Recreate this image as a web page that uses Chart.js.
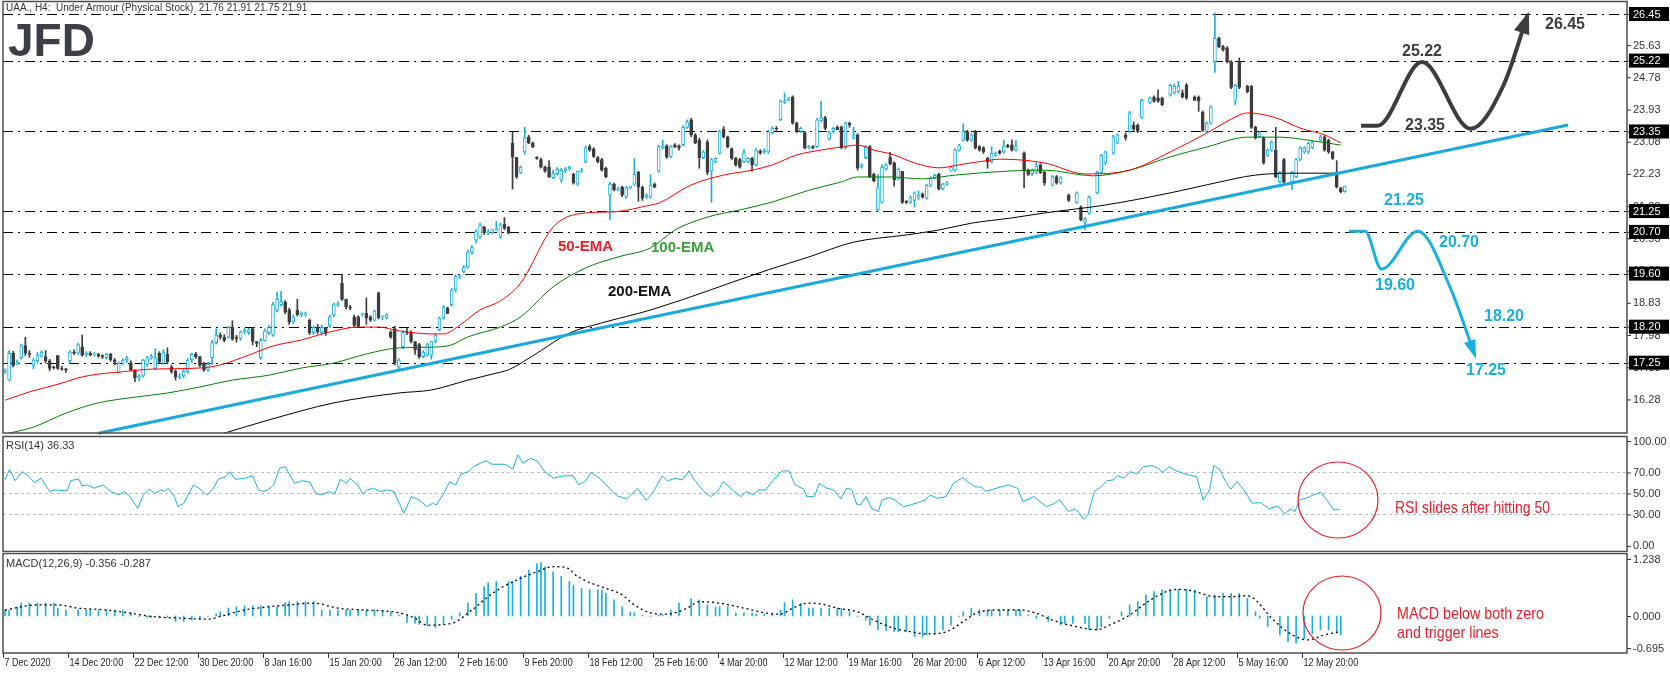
<!DOCTYPE html>
<html><head><meta charset="utf-8">
<script src="https://cdn.jsdelivr.net/npm/chart.js@4.4.1/dist/chart.umd.min.js"></script>
<style>
html,body{margin:0;padding:0;background:#fff;width:1670px;height:674px;overflow:hidden}
canvas{position:absolute;left:0}
</style></head><body>
<canvas id="cMain" width="1670" height="435" style="top:0"></canvas>
<canvas id="cRsi" width="1670" height="118" style="top:435px"></canvas>
<canvas id="cMacd" width="1670" height="121" style="top:553px"></canvas>
<script>
// ---------- DATA ----------
const xLabels=['7 Dec 2020','14 Dec 20:00','22 Dec 12:00','30 Dec 20:00','8 Jan 16:00','15 Jan 20:00','26 Jan 12:00','2 Feb 16:00','9 Feb 20:00','18 Feb 12:00','25 Feb 16:00','4 Mar 20:00','12 Mar 12:00','19 Mar 16:00','26 Mar 20:00','6 Apr 12:00','13 Apr 16:00','20 Apr 20:00','28 Apr 12:00','5 May 16:00','12 May 20:00'];
const open=[17.02,16.79,17.50,17.22,17.38,17.70,17.50,17.18,17.30,17.42,
17.41,17.30,17.13,17.44,17.09,17.07,17.30,17.53,17.50,17.67,
17.47,17.50,17.45,17.47,17.42,17.38,17.47,17.32,16.99,17.24,
17.32,17.24,17.06,16.85,16.90,17.21,17.38,17.10,17.50,17.24,
17.47,17.13,17.02,16.87,16.90,17.02,17.32,17.47,17.41,17.24,
17.06,17.38,17.78,17.98,17.92,17.92,18.18,17.92,17.89,18.06,
18.04,18.15,17.81,17.38,17.84,18.04,17.98,18.64,18.78,18.84,
18.64,18.32,18.64,18.51,18.51,18.37,18.04,18.18,18.04,18.18,
18.23,18.51,18.78,19.35,18.92,18.72,18.46,18.46,18.51,18.55,
18.46,18.37,19.09,18.43,18.43,18.06,18.15,17.13,17.67,18.06,
18.04,17.81,17.73,17.41,17.45,17.45,17.81,18.12,18.43,18.69,
18.78,19.17,19.52,19.66,19.77,20.15,20.48,20.57,20.82,20.68,
20.68,20.76,20.57,20.90,20.82,23.04,22.67,22.27,22.81,23.21,
23.04,22.66,22.61,22.41,22.41,22.13,22.24,22.07,22.30,22.36,
22.22,21.96,22.30,22.55,22.95,22.89,22.66,22.61,22.38,21.67,
21.96,21.81,21.88,21.62,21.87,21.96,22.27,21.88,21.62,21.62,
21.96,22.30,22.92,22.97,22.69,23.00,22.97,23.00,23.46,23.66,
23.26,23.12,22.66,23.07,22.30,22.55,22.78,23.41,23.21,22.89,
22.64,22.61,22.55,22.55,22.64,22.47,22.83,22.81,22.81,23.32,
23.43,23.66,24.12,24.17,24.26,23.57,23.35,23.32,22.92,22.95,
22.95,23.63,23.72,23.15,23.35,23.46,23.46,22.92,23.57,23.18,
23.26,22.41,22.66,22.95,22.22,21.28,21.48,22.36,22.66,22.52,
22.10,22.30,21.51,21.48,21.53,21.59,21.70,21.59,21.93,22.13,
22.22,21.84,21.96,22.30,22.33,22.86,23.12,23.35,23.12,23.35,
22.95,22.92,22.64,22.55,22.72,22.83,22.81,22.97,23.00,22.86,
22.78,22.33,22.24,22.27,22.47,22.27,21.93,22.16,21.99,21.67,
21.48,21.36,20.96,21.19,21.73,22.27,22.52,22.78,23.04,23.26,
23.35,23.52,23.52,23.72,24.12,24.26,24.23,24.23,24.31,24.37,
24.40,24.37,24.57,24.26,24.26,23.86,23.35,23.57,25.19,25.81,
25.59,25.56,25.19,24.15,25.19,24.54,24.54,23.46,23.21,23.18,
22.72,22.86,22.86,22.02,22.61,22.02,22.16,22.61,22.81,22.81,
22.92,23.12,23.21,23.12,22.81,22.27,21.86,21.76];
const high=[17.09,17.57,17.55,17.32,17.74,17.92,17.57,17.36,17.52,17.57,
17.57,17.34,17.16,17.44,17.16,17.10,17.57,17.59,17.76,17.98,
17.54,17.54,17.52,17.50,17.46,17.50,17.50,17.36,17.27,17.36,
17.42,17.30,17.06,16.95,17.34,17.42,17.47,17.62,17.54,17.59,
17.64,17.19,17.06,16.97,17.06,17.36,17.50,17.52,17.42,17.26,
17.26,17.84,18.14,18.04,17.99,18.21,18.36,17.97,18.09,18.16,
18.16,18.18,17.81,17.89,18.14,18.24,18.84,19.11,19.13,18.89,
18.69,18.51,18.92,18.59,18.59,18.40,18.22,18.26,18.24,18.18,
18.51,18.82,18.86,19.59,18.93,18.76,18.51,18.49,18.56,18.96,
18.49,18.64,19.11,18.49,18.54,18.09,18.21,17.36,18.09,18.16,
18.09,17.81,17.76,17.57,17.76,17.81,18.01,18.46,18.76,18.72,
19.21,19.57,19.57,19.81,20.22,20.34,20.76,20.93,20.85,20.76,
20.76,20.98,20.93,21.08,20.85,23.33,22.67,22.44,23.46,23.25,
23.07,22.69,22.65,22.44,22.58,22.33,22.40,22.38,22.40,22.44,
22.25,22.30,22.38,22.97,23.00,22.92,22.69,22.64,22.41,22.01,
21.99,21.88,21.91,21.90,21.91,22.64,22.30,21.91,21.71,22.21,
21.99,22.99,23.12,23.00,22.98,23.03,23.00,23.50,23.66,23.70,
23.29,23.18,22.85,23.13,22.64,22.65,23.38,23.48,23.23,22.92,
22.67,22.64,22.87,22.67,22.67,22.90,22.87,22.89,23.38,23.48,
23.48,24.18,24.37,24.25,24.29,23.60,23.46,23.35,22.98,22.98,
23.70,24.15,23.75,23.35,23.46,23.50,23.50,23.60,23.60,23.46,
23.29,22.50,22.98,22.98,22.25,22.21,22.47,22.50,22.80,22.55,
22.39,22.30,21.53,21.65,21.76,21.78,21.73,21.96,22.16,22.23,
22.25,21.99,22.03,22.44,22.90,23.01,23.55,23.38,23.29,23.38,
22.98,22.95,22.67,22.95,22.81,22.86,23.12,23.01,23.13,23.11,
22.81,22.36,22.36,22.53,22.50,22.30,22.19,22.19,22.16,21.70,
21.76,21.39,21.08,21.65,22.30,22.75,22.83,23.25,23.29,23.31,
23.88,23.60,23.55,24.20,24.26,24.29,24.45,24.26,24.60,24.60,
24.67,24.45,24.62,24.29,24.29,23.89,23.60,24.03,26.48,25.84,
25.62,25.59,25.22,24.60,25.29,24.57,24.57,23.49,23.35,23.21,
22.89,23.10,23.46,22.30,22.64,22.30,22.64,22.95,22.95,23.07,
23.10,23.25,23.24,23.15,22.83,22.58,21.88,21.91];
const low=[16.97,16.77,17.14,17.19,17.34,17.44,17.39,17.09,17.24,17.39,
17.24,17.04,17.08,17.07,17.05,16.99,17.24,17.46,17.47,17.42,
17.41,17.43,17.42,17.39,17.36,17.34,17.29,17.19,16.97,17.20,
17.26,17.04,16.75,16.77,16.87,17.16,17.34,17.06,17.22,17.21,
17.22,16.97,16.79,16.82,16.85,16.97,17.26,17.36,17.14,17.02,
17.02,17.19,17.74,17.87,17.80,17.89,17.84,17.79,17.84,18.01,
17.99,17.72,17.67,17.34,17.82,17.99,17.94,18.59,18.74,18.54,
18.26,18.28,18.48,18.46,18.48,17.99,17.99,18.01,17.99,17.97,
18.18,18.46,18.74,18.89,18.66,18.64,18.18,18.19,18.48,18.26,
18.34,18.34,18.40,18.38,18.40,17.89,17.19,17.09,17.62,17.99,
17.77,17.47,17.36,17.38,17.42,17.34,17.77,18.09,18.40,18.54,
18.74,19.13,19.47,19.61,19.74,20.12,20.41,20.53,20.63,20.63,
20.65,20.73,20.53,20.76,20.65,21.83,22.11,22.24,22.75,23.03,
22.92,22.61,22.38,22.27,22.13,22.10,22.21,22.01,22.27,22.33,
21.96,21.93,22.27,22.52,22.83,22.66,22.52,22.30,22.13,21.02,
21.78,21.78,21.63,21.59,21.83,21.93,21.51,21.53,21.57,21.59,
21.87,22.27,22.89,22.64,22.66,22.92,22.86,22.97,23.43,23.21,
23.03,22.38,22.63,22.21,21.48,22.52,22.75,23.18,22.92,22.61,
22.44,22.38,22.52,22.52,22.30,22.44,22.75,22.77,22.77,23.29,
23.38,23.63,24.08,24.16,23.54,23.32,23.32,22.89,22.89,22.89,
22.92,23.60,23.40,23.12,23.32,23.40,22.89,22.89,23.46,23.15,
22.33,22.38,22.63,22.13,22.02,21.26,21.46,22.33,22.47,21.91,
22.07,21.45,21.45,21.45,21.36,21.56,21.59,21.56,21.90,22.10,
21.81,21.81,21.93,22.30,22.30,22.83,23.09,23.09,23.09,22.89,
22.83,22.77,22.38,22.52,22.69,22.75,22.77,22.92,22.83,22.83,
21.86,22.19,22.19,22.24,22.24,21.93,21.91,21.96,21.96,21.50,
21.45,20.99,20.76,21.16,21.70,22.24,22.48,22.75,23.03,23.12,
23.32,23.38,23.32,23.69,24.08,24.12,24.12,24.03,24.28,24.34,
24.37,24.23,24.20,24.17,23.88,23.35,23.32,23.54,24.91,25.56,
25.47,25.16,24.48,24.06,24.48,24.37,23.43,23.15,23.18,22.49,
22.69,22.83,22.13,21.99,21.99,21.82,22.13,22.58,22.77,22.77,
22.89,23.09,22.83,22.77,22.61,21.86,21.73,21.75];
const close=[17.05,17.50,17.18,17.26,17.70,17.50,17.47,17.32,17.45,17.53,
17.30,17.10,17.11,17.10,17.07,17.06,17.53,17.50,17.73,17.45,
17.50,17.45,17.47,17.42,17.41,17.47,17.32,17.27,17.24,17.32,
17.38,17.06,16.85,16.89,17.32,17.38,17.41,17.38,17.27,17.53,
17.27,17.02,16.87,16.90,17.02,17.32,17.47,17.41,17.18,17.06,
17.21,17.78,17.98,17.92,17.84,18.18,17.87,17.89,18.06,18.12,
18.12,17.81,17.76,17.84,18.09,18.18,18.78,18.92,18.86,18.58,
18.32,18.46,18.51,18.55,18.54,18.04,18.18,18.06,18.18,18.04,
18.46,18.78,18.81,18.92,18.72,18.69,18.23,18.21,18.54,18.43,
18.37,18.61,18.43,18.46,18.51,17.92,17.24,17.32,18.04,18.04,
17.81,17.59,17.41,17.53,17.73,17.81,17.98,18.43,18.72,18.55,
19.17,19.52,19.54,19.77,20.17,20.29,20.71,20.88,20.68,20.71,
20.76,20.76,20.88,20.79,20.68,22.67,22.16,22.41,23.18,23.04,
22.95,22.64,22.41,22.30,22.16,22.24,22.36,22.33,22.36,22.41,
21.99,22.30,22.33,22.92,22.86,22.69,22.55,22.33,22.16,21.96,
21.81,21.84,21.67,21.87,21.88,22.22,21.88,21.59,21.67,21.93,
21.88,22.95,22.97,22.67,22.95,22.95,22.92,23.46,23.60,23.26,
23.04,22.66,22.81,22.27,22.61,22.64,23.35,23.21,22.95,22.64,
22.47,22.41,22.78,22.64,22.47,22.86,22.78,22.86,23.35,23.43,
23.41,24.15,24.15,24.20,23.57,23.35,23.43,22.92,22.95,22.92,
23.66,23.72,23.43,23.32,23.43,23.40,22.92,23.57,23.52,23.26,
22.38,22.47,22.95,22.16,22.05,21.87,22.41,22.47,22.50,22.07,
22.36,21.48,21.48,21.62,21.73,21.67,21.62,21.93,22.13,22.19,
21.84,21.96,21.99,22.41,22.86,22.98,23.35,23.12,23.26,22.92,
22.86,22.81,22.55,22.78,22.78,22.78,22.97,22.95,22.86,22.95,
22.33,22.22,22.33,22.44,22.27,21.99,22.16,21.99,22.13,21.53,
21.73,21.02,21.04,21.62,22.27,22.72,22.81,23.21,23.26,23.18,
23.84,23.41,23.35,24.17,24.23,24.15,24.15,24.06,24.57,24.54,
24.54,24.26,24.23,24.17,24.15,23.38,23.57,24.00,25.81,25.59,
25.50,25.19,24.51,24.57,24.51,24.40,23.46,23.18,23.32,22.52,
22.86,23.07,22.16,22.27,22.02,22.27,22.61,22.92,22.92,23.04,
23.07,23.21,22.86,22.81,22.64,21.88,21.76,21.91];
// bar numbers of the last candles (time index)
const tailBars=[246,247,248,249,251,252,253,254,255,256,258,259,260,262,264,265,266,267,269,270,271,273,274,276,277,278,279,280,282,283,284,285,287,288,289,290,291,293,294,295,296,297,298,299,300,301,302,303,304,306,307,308,309,310,311,312,313,314,315,317,318,319,320,321,322,324,325,326,327,328,329,330];
const ema50=[[0,16.26],[6,16.48],[14,16.71],[18,16.85],[23,16.95],[28,17.00],[36,17.08],[48,17.11],[53,17.19],[60,17.45],[66,17.69],[73,17.85],[80,18.06],[87,18.19],[92,18.19],[97,18.09],[105,18.01],[108,18.01],[112,18.24],[117,18.64],[122,18.88],[127,19.35],[135,20.83],[143,21.20],[150,21.23],[159,21.41],[161,21.46],[169,21.94],[177,22.20],[184,22.33],[189,22.47],[195,22.73],[201,22.86],[206,22.94],[210,22.99],[214,22.86],[219,22.73],[224,22.52],[230,22.39],[235,22.47],[243,22.60],[245,22.62],[256,22.52],[266,22.23],[277,22.33],[287,22.81],[296,23.31],[304,23.78],[306,23.84],[313,23.71],[319,23.44],[325,23.26],[329,23.05]];
const ema100=[[1,15.39],[7,15.55],[15,15.92],[23,16.19],[32,16.34],[40,16.45],[48,16.61],[56,16.79],[65,16.92],[73,17.11],[81,17.24],[89,17.48],[97,17.64],[105,17.66],[110,17.72],[114,17.93],[122,18.19],[127,18.46],[135,19.25],[143,19.75],[151,20.04],[159,20.28],[165,20.75],[173,21.09],[181,21.28],[189,21.49],[198,21.80],[206,22.02],[210,22.15],[218,22.15],[226,22.10],[234,22.20],[248,22.31],[256,22.33],[268,22.18],[277,22.33],[287,22.68],[296,22.94],[306,23.20],[314,23.20],[321,23.12],[329,22.99]];
const ema200=[[54,15.39],[65,15.74],[81,16.19],[97,16.45],[105,16.53],[114,16.79],[122,17.00],[124,17.06],[131,17.50],[139,18.03],[147,18.30],[159,18.64],[188,19.70],[198,20.04],[209,20.43],[222,20.62],[230,20.75],[238,20.93],[248,21.07],[256,21.20],[271,21.41],[287,21.73],[298,21.99],[308,22.20],[319,22.25],[328,22.25]];
const trendLine=[[23,15.39],[385,23.52]];
const levels=[26.45,25.22,23.35,21.25,20.70,19.60,18.20,17.25];
const priceTicks=[25.63,24.78,23.93,23.08,22.23,21.38,20.53,19.68,18.83,17.98,17.13,16.28];
const bullPath=[[334,23.50],[338,23.50],[349,25.18],[361,23.42],[369,24.55],[375,26.41]];
const bearPath=[[331,20.72],[335,20.72],[339,19.72],[348,20.72],[356,19.22],[362,17.45]];
const rsi=[[0,62.9],[1.1,73.0],[2.5,62.2],[4.2,70.8],[5.8,66.7],[7.2,60.3],[8.9,64.5],[11,51.8],[12,53.4],[15.3,52.4],[16.2,62.2],[18.1,63.8],[19,57.2],[20.4,58.1],[21.9,55.0],[24.2,58.1],[26.1,51.8],[28,48.6],[29.4,51.8],[30.8,47.0],[32.7,35.9],[34.1,48.6],[35.5,54.0],[37,50.2],[38.4,53.4],[39.3,51.8],[40.2,54.9],[41.7,47.0],[42.6,37.5],[44,40.7],[46.4,58.1],[47.8,54.9],[49.7,48.6],[51.1,53.4],[52.5,63.5],[54.4,66.1],[55.3,70.8],[56.7,63.5],[59.1,64.5],[61,67.0],[62.4,53.4],[63.8,51.8],[64.7,53.4],[66.2,58.1],[67.6,74.0],[69,75.6],[71.3,59.7],[73.2,62.2],[75.1,60.7],[76.5,50.2],[77.9,48.6],[79.8,51.8],[81.2,49.5],[82.6,63.5],[84.1,59.7],[85,64.5],[86.9,58.1],[88.1,49.5],[89.2,53.4],[90.7,55.0],[92.5,51.8],[94,53.4],[95.8,51.8],[97.3,39.1],[98.2,31.1],[100.1,47.0],[102,43.8],[103.9,37.5],[105.3,40.7],[106.2,39.1],[108.1,50.2],[109.5,61.3],[111,58.1],[112.3,68.6],[114.2,70.8],[115.6,76.2],[117.1,78.8],[118.5,81.0],[119.9,77.8],[123.2,77.8],[125.1,73.0],[126.3,86.7],[127.6,78.8],[129.4,83.5],[131.1,81.0],[132.9,70.8],[135.1,64.5],[137.3,66.7],[139.9,67.0],[141.3,58.1],[143,61.9],[144.3,69.9],[146.5,64.5],[149.2,53.4],[150.9,47.6],[153.1,44.8],[155.8,54.9],[158,43.2],[159.7,51.8],[161.9,66.7],[163.2,61.9],[165,64.5],[166.8,62.9],[168.5,71.5],[169.8,62.9],[172,52.4],[173.8,47.0],[175.5,51.8],[176.9,61.3],[179.1,53.4],[181.3,47.0],[182.6,51.8],[184.3,48.6],[185.7,53.4],[187.4,53.4],[189.2,62.9],[191.4,71.5],[193.1,71.5],[194.5,58.8],[196.7,54.0],[197.5,47.0],[199.3,47.0],[200.6,59.7],[202.4,55.0],[204.1,53.4],[205.9,44.8],[207.2,55.0],[208.5,54.0],[209.8,39.7],[210.7,39.1],[212.1,47.0],[213.4,35.9],[215.1,32.7],[216,43.8],[217.8,46.1],[219.1,43.8],[221.3,37.5],[223,39.1],[224.4,40.7],[226.6,43.8],[227.9,48.6],[229.6,45.4],[231.8,47.0],[233.6,59.7],[235.8,65.1],[237.1,61.3],[238.9,56.5],[240.6,55.9],[241.5,51.8],[243.3,54.0],[245.5,56.5],[247.2,58.1],[249.4,55.0],[250.7,42.2],[253.4,47.0],[256.5,37.5],[258.2,40.0],[259.8,43.8],[261.9,32.7],[263.5,35.3],[264.6,31.8],[265.6,25.4],[266.7,29.5],[268.3,51.8],[269.8,55.9],[271.4,62.2],[273,62.9],[274,67.0],[275.6,64.5],[277.2,70.8],[278.8,68.6],[280.4,75.6],[282.5,76.5],[284,74.0],[285.1,69.9],[286.7,75.6],[288.3,71.8],[291.4,67.6],[293.5,66.1],[295.1,43.8],[296.7,53.4],[297.7,76.5],[299.3,72.4],[300.4,62.9],[301.9,54.0],[303.5,61.3],[305.1,53.4],[307.2,40.7],[309.3,41.3],[311.4,35.3],[313.5,38.1],[315.1,30.5],[316.7,35.3],[317.7,32.7],[318.8,43.8],[320.4,45.4],[321.9,48.0],[324,51.1],[325.6,43.8],[327.2,34.3],[328.8,35.3]];
const macdHist=[[0,0.13],[1,0.13],[3,0.20],[4,0.28],[6,0.28],[8,0.28],[10,0.28],[12,0.28],[13,0.17],[15,0.13],[18,0.13],[20,0.13],[21,0.13],[23,0.13],[25,0.13],[27,0.13],[29,0.13],[31,0.07],[33,-0.01],[35,-0.03],[36,-0.03],[38,-0.03],[40,-0.03],[42,-0.12],[44,-0.12],[46,-0.09],[48,-0.06],[50,-0.01],[52,0.04],[53,0.09],[55,0.17],[57,0.20],[59,0.22],[61,0.22],[63,0.22],[65,0.22],[67,0.20],[69,0.29],[70,0.31],[72,0.31],[74,0.31],[76,0.31],[78,0.13],[80,0.13],[82,0.13],[84,0.13],[85,0.13],[87,0.13],[89,0.13],[91,0.13],[93,0.13],[95,0.09],[97,0.02],[99,-0.14],[101,-0.16],[102,-0.18],[104,-0.22],[106,-0.25],[108,-0.16],[110,-0.07],[112,0.07],[114,0.28],[116,0.49],[118,0.64],[119,0.72],[121,0.75],[124,0.75],[125,0.75],[127,0.86],[129,1.00],[131,1.14],[132,1.16],[133,1.07],[135,0.96],[137,0.86],[139,0.75],[140,0.67],[142,0.60],[144,0.57],[146,0.57],[147,0.57],[148,0.49],[150,0.35],[152,0.20],[154,0.09],[155,0.07],[157,0.02],[159,-0.01],[161,0.02],[162,0.02],[164,0.13],[166,0.28],[169,0.38],[171,0.35],[173,0.24],[175,0.20],[176,0.20],[178,0.20],[180,0.07],[182,0.07],[184,0.07],[185,0.04],[187,0.04],[189,0.04],[191,0.13],[192,0.29],[194,0.35],[196,0.28],[198,0.17],[199,0.17],[201,0.17],[203,0.17],[205,0.17],[206,0.17],[208,0.09],[210,-0.01],[212,-0.09],[213,-0.20],[215,-0.30],[217,-0.32],[219,-0.34],[220,-0.34],[222,-0.34],[224,-0.45],[226,-0.46],[227,-0.41],[229,-0.38],[231,-0.30],[233,-0.20],[235,-0.01],[236,0.09],[238,0.17],[240,0.13],[242,0.13],[243,0.13],[245,0.13],[247,0.13],[249,0.13],[250,0.13],[252,0.02],[254,-0.05],[257,-0.12],[260,-0.20],[261,-0.16],[263,-0.16],[266,-0.16],[267,-0.30],[269,-0.30],[270,-0.23],[272,-0.05],[275,0.09],[277,0.24],[279,0.31],[281,0.46],[283,0.53],[285,0.57],[287,0.58],[289,0.58],[291,0.58],[293,0.57],[296,0.42],[298,0.46],[300,0.49],[302,0.49],[304,0.49],[306,0.38],[308,0.09],[309,-0.05],[311,-0.23],[314,-0.41],[316,-0.56],[318,-0.59],[320,-0.49],[322,-0.38],[324,-0.30],[326,-0.30],[328,-0.34],[329,-0.41]];
const macdSignal=[[0,0.13],[8,0.24],[13,0.24],[18,0.17],[25,0.13],[31,0.06],[36,-0.01],[44,-0.05],[50,-0.07],[53,-0.01],[59,0.13],[65,0.20],[70,0.24],[76,0.28],[82,0.17],[88,0.13],[97,0.07],[101,-0.05],[104,-0.20],[110,-0.16],[115,0.13],[119,0.42],[122,0.60],[126,0.78],[131,0.96],[135,1.07],[138,1.06],[141,0.86],[145,0.69],[148,0.60],[152,0.46],[155,0.24],[159,0.07],[163,0.04],[168,0.17],[171,0.31],[176,0.28],[182,0.17],[187,0.07],[191,0.04],[194,0.17],[198,0.28],[201,0.26],[205,0.17],[210,0.09],[214,-0.09],[219,-0.27],[223,-0.34],[227,-0.39],[232,-0.34],[236,-0.12],[240,0.09],[245,0.13],[250,0.13],[254,0.06],[258,-0.09],[266,-0.27],[269,-0.30],[272,-0.20],[277,0.02],[281,0.28],[285,0.49],[289,0.58],[293,0.53],[298,0.42],[302,0.42],[306,0.44],[308,0.35],[312,-0.05],[317,-0.41],[321,-0.52],[325,-0.41],[329,-0.34]];

// ---------- STYLE / SETUP ----------
const CYAN='#19b0e0', DARK='#3d3d3d';
const FONT="'Liberation Sans', Arial, sans-serif";
Chart.defaults.font.family=FONT;
const RIGHT=1627;
const xScale=()=>({type:'linear',min:-0.5,max:399.5,offset:false,grace:0,bounds:'ticks',display:false,ticks:{stepSize:50}});
const pad={left:3,right:43,top:0,bottom:0};
const pts=a=>a.map(p=>({x:p[0],y:p[1]}));
const slot=i=>i<246?i:tailBars[i-246];
const isBull=i=>close[i]>=open[i];

// draw text horizontally condensed to a factor (narrow look)
function narrowText(ctx,txt,x,y,sx){ctx.save();ctx.translate(x,y);ctx.scale(sx,1);ctx.fillText(txt,0,0);ctx.restore();}
function frame(ctx,x1,y1,x2,y2){ctx.save();ctx.strokeStyle='#4d4d4d';ctx.lineWidth=1.5;ctx.strokeRect(x1,y1,x2-x1,y2-y1);ctx.restore();}
function axisText(ctx,y,txt,boxed){
  ctx.save();ctx.font='11px '+FONT;ctx.textBaseline='middle';
  ctx.strokeStyle='#333';ctx.lineWidth=1;ctx.beginPath();ctx.moveTo(RIGHT,y+0.5);ctx.lineTo(RIGHT+4,y+0.5);ctx.stroke();
  if(boxed){ctx.fillStyle='#000';ctx.fillRect(RIGHT+2,y-7,40,14);ctx.fillStyle='#fff';}
  else ctx.fillStyle='#333';
  ctx.fillText(txt,RIGHT+6,y+0.5);ctx.restore();
}
function arrowHead(ctx,meta,color,len,wid){
  const d=meta.data;const a=d[d.length-2],b=d[d.length-1];
  const ang=Math.atan2(b.y-a.y,b.x-a.x);
  ctx.save();ctx.fillStyle=color;ctx.translate(b.x,b.y);ctx.rotate(ang);
  ctx.beginPath();ctx.moveTo(4,0);ctx.lineTo(-len,-wid/2);ctx.lineTo(-len,wid/2);ctx.closePath();ctx.fill();ctx.restore();
}

// ---------- MAIN PRICE CHART ----------
const wickData=open.map((o,i)=>({x:slot(i),y:[low[i],high[i]]}));
const bodyData=open.map((o,i)=>({x:slot(i),y:[open[i],close[i]]}));
const mainPlugin={id:'mainDeco',
 beforeDatasetsDraw(c){
  const ctx=c.ctx,ys=c.scales.y;
  ctx.save();ctx.strokeStyle='#000';ctx.lineWidth=1;ctx.setLineDash([10,5,2,5]);
  levels.forEach(v=>{const y=Math.round(ys.getPixelForValue(v))+0.5;ctx.beginPath();ctx.moveTo(3,y);ctx.lineTo(RIGHT,y);ctx.stroke();});
  ctx.restore();
 },
 afterDraw(c){
  const ctx=c.ctx,ys=c.scales.y;
  frame(ctx,3,1.5,RIGHT,433);
  priceTicks.forEach(v=>axisText(ctx,ys.getPixelForValue(v),v.toFixed(2),false));
  levels.forEach(v=>axisText(ctx,ys.getPixelForValue(v),v.toFixed(2),true));
  arrowHead(ctx,c.getDatasetMeta(6),DARK,18,16);
  arrowHead(ctx,c.getDatasetMeta(7),CYAN,15,12);
  ctx.save();
  ctx.font='10px '+FONT;ctx.fillStyle='#333';ctx.textBaseline='top';
  ctx.fillText('UAA., H4:  Under Armour (Physical Stock)  21.76 21.91 21.75 21.91',6,3);
  ctx.font='bold 46px '+FONT;ctx.fillStyle='#3c3f45';ctx.textBaseline='alphabetic';
  ctx.fillText('JFD',8,56);
  ctx.font='bold 15px '+FONT;ctx.textBaseline='middle';
  ctx.fillStyle='#e8202a';ctx.fillText('50-EMA',558,247);
  ctx.fillStyle='#3a9e3a';ctx.fillText('100-EMA',651,248);
  ctx.fillStyle='#111';ctx.fillText('200-EMA',608,292);
  ctx.font='bold 16px '+FONT;ctx.textAlign='center';ctx.fillStyle=DARK;
  ctx.fillText('25.22',1422,52);ctx.fillText('23.35',1425,126);ctx.fillText('26.45',1565,25);
  ctx.fillStyle=CYAN;
  ctx.fillText('21.25',1404,201);ctx.fillText('20.70',1459,243);ctx.fillText('19.60',1395,286);
  ctx.fillText('18.20',1504,317);ctx.fillText('17.25',1486,371);
  ctx.restore();
 }};
const lineDs=(data,color,w,order,extra)=>Object.assign({type:'line',data:pts(data),borderColor:color,borderWidth:w,pointRadius:0,fill:false,cubicInterpolationMode:'monotone',order},extra||{});
new Chart(document.getElementById('cMain'),{
 data:{datasets:[
  {type:'bar',data:wickData,backgroundColor:open.map((o,i)=>isBull(i)?CYAN:DARK),barThickness:1,grouped:false,order:6},
  {type:'bar',data:bodyData,backgroundColor:open.map((o,i)=>isBull(i)?'#fff':DARK),borderColor:open.map((o,i)=>isBull(i)?CYAN:DARK),borderWidth:1,borderSkipped:false,barThickness:3,minBarLength:1,grouped:false,order:5},
  lineDs(ema50,'#ff0000',1,3),
  lineDs(ema100,'#008000',1,3),
  lineDs(ema200,'#000000',1,3),
  lineDs(trendLine,'#1aa9dd',3,2,{cubicInterpolationMode:'default'}),
  lineDs(bullPath,DARK,4,1),
  lineDs(bearPath,CYAN,3,1)
 ]},
 options:{responsive:false,animation:false,devicePixelRatio:1,events:[],layout:{padding:pad},
  plugins:{legend:{display:false},tooltip:{enabled:false}},
  scales:{x:xScale(),y:{type:'linear',min:15.342,max:26.819,display:false}}},
 plugins:[mainPlugin]
});

// ---------- RSI ----------
const rsiPlugin={id:'rsiDeco',
 beforeDatasetsDraw(c){const ctx=c.ctx,ys=c.scales.y;ctx.save();ctx.strokeStyle='#bdbdbd';ctx.lineWidth=1;ctx.setLineDash([3,3]);
  [70,50,30].forEach(v=>{const y=Math.round(ys.getPixelForValue(v))+0.5;ctx.beginPath();ctx.moveTo(3,y);ctx.lineTo(RIGHT,y);ctx.stroke();});ctx.restore();},
 afterDraw(c){const ctx=c.ctx,ys=c.scales.y;
  frame(ctx,3,1.5,RIGHT,116.5);
  [100,70,50,30,0].forEach(v=>axisText(ctx,ys.getPixelForValue(v),v.toFixed(2),false));
  ctx.save();ctx.font='11px '+FONT;ctx.fillStyle='#333';ctx.textBaseline='middle';ctx.fillText('RSI(14) 36.33',6,11);
  ctx.strokeStyle='#e8202a';ctx.lineWidth=1.2;ctx.beginPath();ctx.ellipse(1338,65,40,38,0,0,Math.PI*2);ctx.stroke();
  ctx.font='17px '+FONT;ctx.fillStyle='#e8202a';narrowText(ctx,'RSI slides after hitting 50',1395,73,0.82);
  ctx.restore();}};
new Chart(document.getElementById('cRsi'),{
 data:{datasets:[{type:'line',data:pts(rsi),borderColor:CYAN,borderWidth:1,pointRadius:0,tension:0}]},
 options:{responsive:false,animation:false,devicePixelRatio:1,events:[],layout:{padding:pad},
  plugins:{legend:{display:false},tooltip:{enabled:false}},
  scales:{x:xScale(),y:{type:'linear',min:-6.7,max:105.7,display:false}}},
 plugins:[rsiPlugin]});

// ---------- MACD ----------
const macdPlugin={id:'macdDeco',
 afterDraw(c){const ctx=c.ctx,ys=c.scales.y,xs=c.scales.x;
  frame(ctx,3,0.5,RIGHT,100);
  [[1.238,'1.238'],[0,'0.000'],[-0.695,'-0.695']].forEach(t=>axisText(ctx,ys.getPixelForValue(t[0]),t[1],false));
  ctx.save();ctx.font='11px '+FONT;ctx.fillStyle='#333';ctx.textBaseline='middle';ctx.fillText('MACD(12,26,9) -0.356 -0.287',6,11);
  ctx.font='11px '+FONT;ctx.fillStyle='#222';ctx.strokeStyle='#333';ctx.lineWidth=1;
  xLabels.forEach((t,k)=>{const px=Math.round(xs.getPixelForValue(k*16-0.5))+0.5;
    ctx.beginPath();ctx.moveTo(px,100);ctx.lineTo(px,105);ctx.stroke();narrowText(ctx,t,px+1,110,0.82);});
  ctx.strokeStyle='#e8202a';ctx.lineWidth=1.2;ctx.beginPath();ctx.ellipse(1342,60,39,37,0,0,Math.PI*2);ctx.stroke();
  ctx.font='17px '+FONT;ctx.fillStyle='#e8202a';
  narrowText(ctx,'MACD below both zero',1397,61,0.84);narrowText(ctx,'and trigger lines',1397,80,0.84);
  ctx.restore();}};
new Chart(document.getElementById('cMacd'),{
 data:{datasets:[
  {type:'bar',data:macdHist.map(p=>({x:p[0],y:[0,p[1]]})),backgroundColor:CYAN,barThickness:1,grouped:false,order:2},
  {type:'line',data:pts(macdSignal),borderColor:'#000',borderWidth:1.3,borderDash:[2,3],pointRadius:0,cubicInterpolationMode:'monotone',order:1}
 ]},
 options:{responsive:false,animation:false,devicePixelRatio:1,events:[],layout:{padding:{left:3,right:43,top:0,bottom:21}},
  plugins:{legend:{display:false},tooltip:{enabled:false}},
  scales:{x:xScale(),y:{type:'linear',min:-0.804,max:1.368,display:false}}},
 plugins:[macdPlugin]});
</script></body></html>
